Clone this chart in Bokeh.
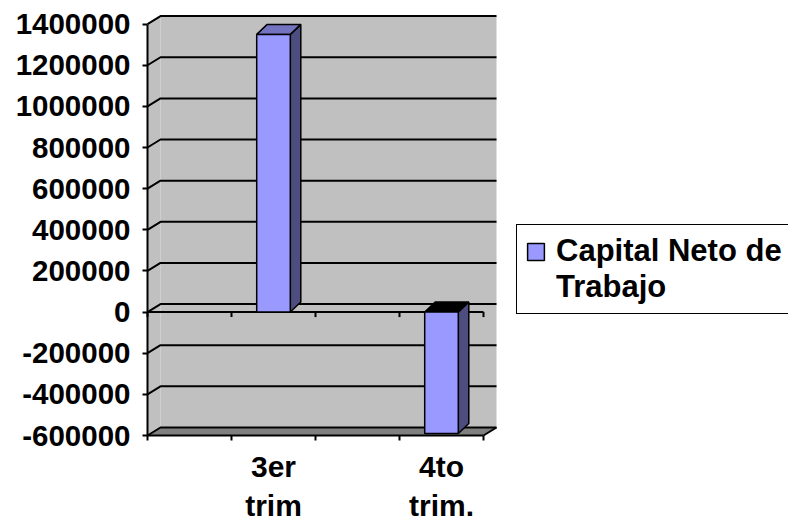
from bokeh.plotting import figure
from bokeh.models import LinearAxis, FixedTicker, Legend, LegendItem, Range1d
from bokeh.embed import file_html
from bokeh.resources import INLINE

# ---- data ----
categories = ["", "3er\ntrim", "", "4to\ntrim."]
values = [None, 1350000, None, -590000]
series_name_lines = ["Capital Neto de", "Trabajo"]
y_ticks = [-600000, -400000, -200000, 0, 200000, 400000, 600000, 800000, 1000000, 1200000, 1400000]
y_tick_labels = ["-600000", "-400000", "-200000", "0", "200000", "400000", "600000",
                 "800000", "1000000", "1200000", "1400000"]

# ---- layout constants ----
W, H = 788, 525
X0_PAGE = 147              # page x of category axis start
PX_X = 84.0                # px per category
PX_Y = 41.14 / 200000.0    # px per value unit
Y0_PAGE = 435              # page y of the bottom of the value axis

x_start = -X0_PAGE / PX_X
x_end = (W - X0_PAGE) / PX_X
y_start = y_ticks[0] - (H - Y0_PAGE) / PX_Y
y_end = y_ticks[0] + Y0_PAGE / PX_Y

FONT = "Liberation Sans"

p = figure(width=W, height=H, x_range=Range1d(x_start, x_end), y_range=Range1d(y_start, y_end),
           output_backend="svg", toolbar_location=None, x_axis_type=None, y_axis_type=None,
           title=None, min_border=0)
p.outline_line_color = None
p.background_fill_color = "white"
p.border_fill_color = "white"

n = len(categories)
ymin, ymax = y_ticks[0], y_ticks[-1]
dxw = 13 / PX_X
dyw = 8 / PX_Y
dxb = 10.5 / PX_X
dyb = 10 / PX_Y
tick_len = 5 / PX_Y
bw = 0.4

# walls
p.patches(xs=[[0, 0, dxw, dxw], [dxw, n + dxw, n + dxw, dxw]],
          ys=[[ymin, ymax, ymax + dyw, ymin + dyw],
              [ymin + dyw, ymin + dyw, ymax + dyw, ymax + dyw]],
          fill_color="#C0C0C0", line_color=None)
# floor
p.patch(x=[0, n, n + dxw, dxw], y=[ymin, ymin, ymin + dyw, ymin + dyw],
        fill_color="#808080", line_color=None)

# gridlines on walls
p.multi_line(xs=[[0, dxw, n + dxw] for v in y_ticks],
             ys=[[v, v + dyw, v + dyw] for v in y_ticks],
             line_color="black", line_width=2)
# floor right diagonal
p.line(x=[n, n + dxw], y=[ymin, ymin + dyw], line_color="black", line_width=2)

# zero plane front line with ticks
p.line(x=[0, n], y=[0, 0], line_color="black", line_width=2)
p.multi_line(xs=[[i, i] for i in range(n + 1)],
             ys=[[0, -tick_len] for i in range(n + 1)],
             line_color="black", line_width=2)

# bars
front_l, front_r, front_b, front_t = [], [], [], []
side_xs, side_ys, top_xs, top_ys, top_cols = [], [], [], [], []
for i, v in enumerate(values):
    if v is None:
        continue
    xc = i + 0.5
    l, r = xc - bw / 2, xc + bw / 2
    b, t = min(0, v), max(0, v)
    front_l.append(l); front_r.append(r); front_b.append(b); front_t.append(t)
    side_xs.append([r, r + dxb, r + dxb, r])
    side_ys.append([b, b + dyb, t + dyb, t])
    top_xs.append([l, r, r + dxb, l + dxb])
    top_ys.append([t, t, t + dyb, t + dyb])
    top_cols.append("#7373BF" if v > 0 else "#000000")

p.patches(xs=side_xs, ys=side_ys, fill_color="#4D4D80", line_color="black", line_width=1.5)
p.patches(xs=top_xs, ys=top_ys, fill_color=top_cols, line_color="black", line_width=1.5)
front = p.quad(left=front_l, right=front_r, bottom=front_b, top=front_t,
               fill_color="#9999FF", line_color="black", line_width=1.5)
blank = p.quad(left=[], right=[], bottom=[], top=[], fill_alpha=0, line_alpha=0)

# y axis
yaxis = LinearAxis(ticker=FixedTicker(ticks=y_ticks), bounds=(ymin, ymax), fixed_location=0)
yaxis.major_label_overrides = {v: s for v, s in zip(y_ticks, y_tick_labels)}
yaxis.axis_line_width = 2
yaxis.major_tick_line_width = 2
yaxis.major_tick_out = 5
yaxis.major_tick_in = 0
yaxis.minor_tick_line_color = None
yaxis.major_label_standoff = 12
yaxis.major_label_text_font = FONT
yaxis.major_label_text_font_style = "bold"
yaxis.major_label_text_font_size = "29.5px"
yaxis.major_label_text_color = "black"
p.add_layout(yaxis, "left")

# x axis
cat_pos = [i + 0.5 for i, c in enumerate(categories) if c]
xaxis = LinearAxis(ticker=FixedTicker(ticks=cat_pos, minor_ticks=list(range(n + 1))),
                   bounds=(0, n), fixed_location=ymin)
xaxis.major_label_overrides = {i + 0.5: c for i, c in enumerate(categories) if c}
xaxis.axis_line_width = 2
xaxis.major_tick_line_color = None
xaxis.major_tick_out = 0
xaxis.major_tick_in = 0
xaxis.minor_tick_line_color = "black"
xaxis.minor_tick_line_width = 2
xaxis.minor_tick_out = 5
xaxis.minor_tick_in = 0
xaxis.major_label_standoff = 9
xaxis.major_label_text_font = FONT
xaxis.major_label_text_font_style = "bold"
xaxis.major_label_text_font_size = "30px"
xaxis.major_label_text_line_height = 1.2
xaxis.major_label_text_color = "black"
p.add_layout(xaxis, "below")

# legend
legend = Legend(items=[LegendItem(label=series_name_lines[0], renderers=[front]),
                       LegendItem(label=series_name_lines[1], renderers=[blank])],
                location=(516, H - 314), margin=0, padding=8, spacing=-5,
                glyph_width=21, glyph_height=21, label_width=250,
                label_standoff=10, border_line_color="black", border_line_width=1.5,
                border_line_alpha=1.0,
                background_fill_color="white", background_fill_alpha=1.0,
                label_text_font=FONT, label_text_font_style="bold",
                label_text_font_size="31px", label_height=20,
                label_text_color="black")
p.add_layout(legend)

open("out.html", "w").write(file_html(p, INLINE))
